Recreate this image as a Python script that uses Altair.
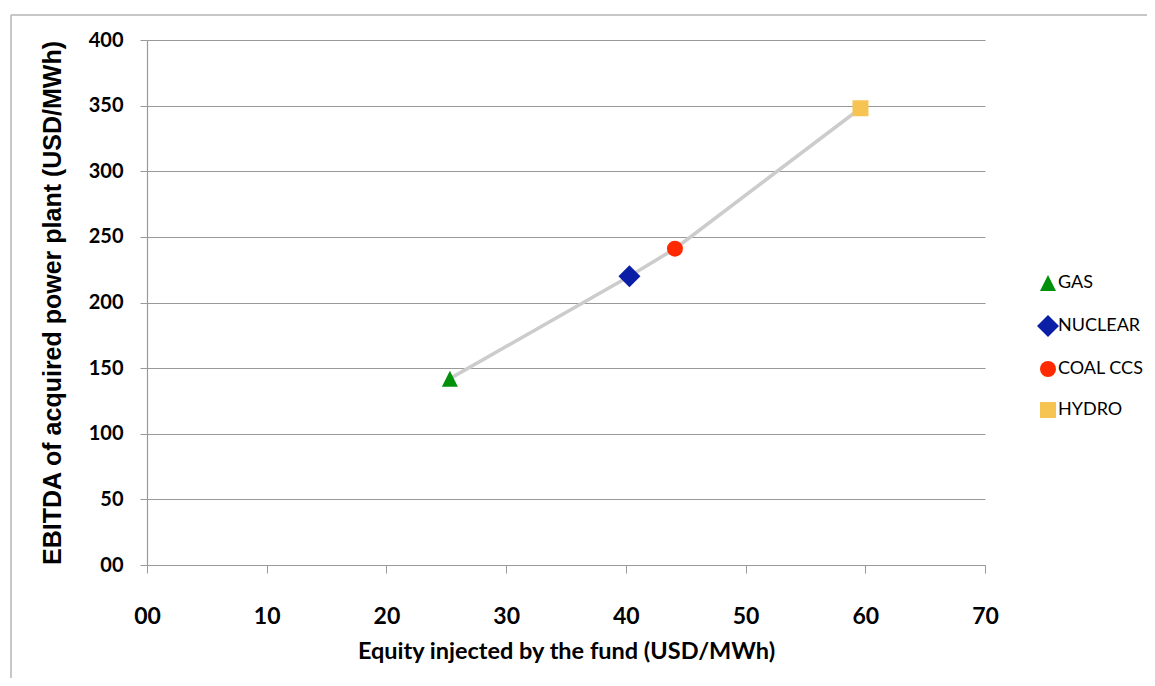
import altair as alt
import pandas as pd

# ---- data ----
plants = ["GAS", "NUCLEAR", "COAL CCS", "HYDRO"]
equity = [25.3, 40.3, 44.1, 59.6]
ebitda = [142, 220, 241, 348]

# marker styles (custom paths in the unit box, the diamond drawn larger)
shapes = ["M-1,1L0,-1L1,1Z", "M-1.375,0L0,-1.375L1.375,0L0,1.375Z", "circle", "square"]
colors = ["#00900a", "#0a1ea6", "#ff2a00", "#f6c453"]

df = pd.DataFrame({"plant": plants, "equity": equity, "ebitda": ebitda})

x_enc = alt.X(
    "equity:Q",
    title="Equity injected by the fund (USD/MWh)",
    scale=alt.Scale(domain=[0, 70], nice=False),
    axis=alt.Axis(
        values=list(range(0, 71, 10)),
        format="02d",
        grid=False,
        tickSize=8,
        labelFlush=False,
        labelPadding=32,
        labelFont="Lato",
        labelFontSize=23,
        labelFontWeight="bold",
        titleFont="Lato",
        titleFontSize=23.5,
        titleFontWeight="bold",
        titlePadding=11,
    ),
)
y_enc = alt.Y(
    "ebitda:Q",
    title="EBITDA of acquired power plant (USD/MWh)",
    scale=alt.Scale(domain=[0, 400], nice=False),
    axis=alt.Axis(
        values=list(range(0, 401, 50)),
        format="02d",
        tickSize=7,
        labelFlush=False,
        labelPadding=17,
        labelFont="Lato",
        labelFontSize=20,
        labelFontWeight="bold",
        titleFont="Liberation Sans",
        titleFontSize=25,
        titleFontWeight="bold",
        titlePadding=23,
    ),
)

# outer frame of the chart box: only its top and left edges are in view
frame_base = alt.Chart(pd.DataFrame({"a": [0]})).mark_rule(color="#b4b4b4", strokeWidth=1.5)
frame_top = frame_base.encode(x=alt.value(-136), x2=alt.value(1100), y=alt.value(-25))
frame_left = frame_base.encode(x=alt.value(-136), y=alt.value(-25), y2=alt.value(700))

line = alt.Chart(df).mark_line(color="#cccccc", strokeWidth=3.5).encode(
    x=x_enc, y=y_enc, order="equity:Q"
)

legend = alt.Legend(
    title=None,
    orient="none",
    legendX=892,
    legendY=234,
    padding=0,
    symbolSize=256,
    symbolStrokeWidth=0,
    labelFont="Lato",
    labelFontSize=18,
    labelColor="#000000",
    labelOffset=1,
    rowPadding=23,
)

points = alt.Chart(df).mark_point(filled=True, opacity=1, size=256).encode(
    x=x_enc,
    y=y_enc,
    shape=alt.Shape("plant:N", scale=alt.Scale(domain=plants, range=shapes), legend=legend),
    color=alt.Color("plant:N", scale=alt.Scale(domain=plants, range=colors), legend=legend),
)

chart = (
    alt.layer(frame_top, frame_left, line, points)
    .properties(
        width=838,
        height=525,
        autosize=alt.AutoSizeParams(type="none"),
        padding={"left": 139, "top": 32, "right": 162, "bottom": 113},
    )
    .configure_view(stroke=None)
    .configure_axis(
        domainColor="#999999",
        tickColor="#999999",
        gridColor="#999999",
        gridWidth=1.2,
        domainWidth=1.2,
        labelColor="#000000",
        titleColor="#000000",
    )
)

chart.save("out.html", embed_options={"renderer": "svg", "actions": False})
